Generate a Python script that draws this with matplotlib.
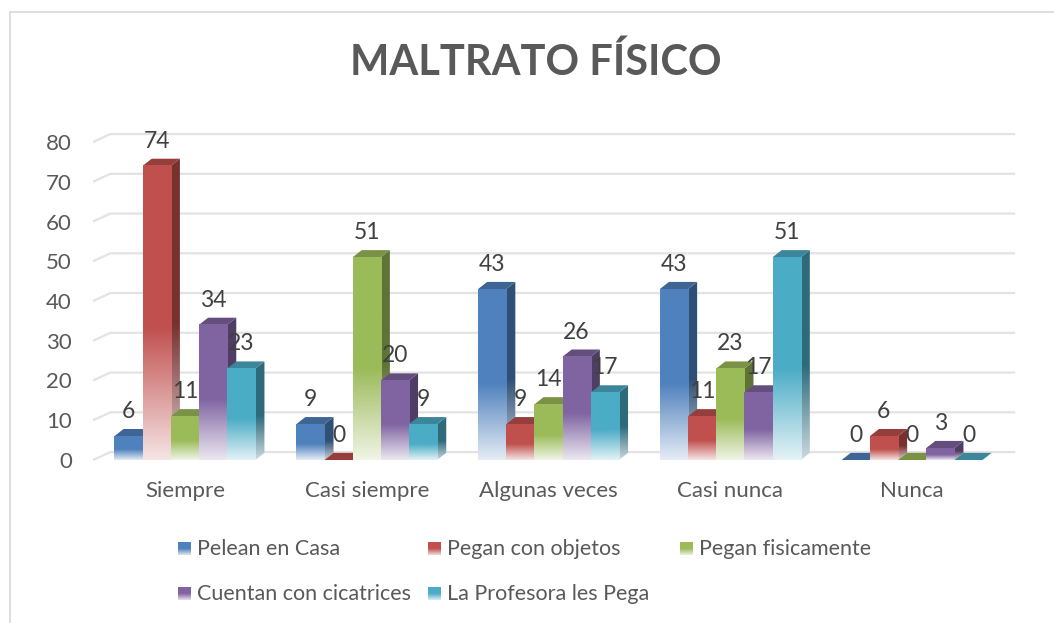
import numpy as np
import matplotlib
matplotlib.use("Agg")
import matplotlib.pyplot as plt
from matplotlib.patches import Polygon
from matplotlib.lines import Line2D

categories = ["Siempre", "Casi siempre", "Algunas veces", "Casi nunca", "Nunca"]
series_names = ["Pelean en Casa", "Pegan con objetos", "Pegan fisicamente",
                "Cuentan con cicatrices", "La Profesora les Pega"]
pelean_casa = [6, 9, 43, 43, 0]
pegan_objetos = [74, 0, 9, 11, 6]
pegan_fisicamente = [11, 51, 14, 23, 0]
cuentan_cicatrices = [34, 20, 26, 17, 3]
profesora_pega = [23, 9, 17, 51, 0]
series_values = [pelean_casa, pegan_objetos, pegan_fisicamente,
                 cuentan_cicatrices, profesora_pega]
colors = ["#4f81bd", "#c0504d", "#9bbb59", "#8064a2", "#4bacc6"]
y_ticks = [0, 10, 20, 30, 40, 50, 60, 70, 80]

plt.rcParams["font.family"] = ["Lato", "DejaVu Sans"]
TEXT = "#595959"

W, H = 1054, 623
fig = plt.figure(figsize=(W / 100, H / 100), dpi=100)

# plot area in pixels: x -0.5 -> 94 px, 4.5 -> 1003 px ; y 0 -> 460 px, 90 -> 102 px
ax = fig.add_axes([94 / W, (H - 460) / H, (1003 - 94) / W, (460 - 102.25) / H])
ax.set_zorder(2)
ax.patch.set_alpha(0)

bw = 0.155          # bar width (data units)
dx = 0.05           # depth offset in x
dy = 1.8            # depth offset in value units


def shade(c, f):
    rgb = np.array(matplotlib.colors.to_rgb(c))
    return np.clip(rgb * f, 0, 1)


def gradient_img(rgb, n=200, fade=0.45, k=0.85):
    t = np.linspace(0, 1, n)[:, None]
    mix = np.clip(1 - t / fade, 0, 1) * k
    img = rgb[None, :] * (1 - mix) + np.ones(3)[None, :] * mix
    return np.repeat(img[:, None, :], 2, axis=1)


def draw_bar(xc, v, color):
    x0, x1 = xc - bw / 2, xc + bw / 2
    side_c = shade(color, 0.62)
    top_c = shade(color, 0.78)
    front_c = np.array(matplotlib.colors.to_rgb(color))
    if v <= 0:
        ax.add_patch(Polygon([(x0, 0), (x1, 0), (x1 + dx, dy), (x0 + dx, dy)],
                             closed=True, fc=top_c, ec="none", zorder=3))
        return
    # side face
    side = Polygon([(x1, 0), (x1 + dx, dy), (x1 + dx, v + dy), (x1, v)],
                   closed=True, fc="none", ec="none")
    ax.add_patch(side)
    im = ax.imshow(gradient_img(side_c, k=0.75), extent=(x1, x1 + dx, 0, v + dy),
                   origin="lower", aspect="auto", interpolation="bilinear", zorder=3)
    im.set_clip_path(side)
    # top face
    ax.add_patch(Polygon([(x0, v), (x1, v), (x1 + dx, v + dy), (x0 + dx, v + dy)],
                         closed=True, fc=top_c, ec="none", zorder=3))
    # front face
    ax.imshow(gradient_img(front_c), extent=(x0, x1, 0, v), origin="lower",
              aspect="auto", interpolation="bilinear", zorder=3)


# back-wall gridlines with a small perspective kink at the left
gx0, gx1 = -0.505, -0.41
for t in y_ticks:
    ax.plot([gx0, gx1, 4.567], [t, t + 2.0, t + 2.0], color="#e3e3e3", lw=1.6,
            zorder=1, clip_on=False, solid_capstyle="butt")

n = len(series_values)
for i, cat in enumerate(categories):
    for j in range(n):
        xc = i + (j - (n - 1) / 2) * bw
        draw_bar(xc, series_values[j][i], colors[j])

for i, cat in enumerate(categories):
    for j in range(n):
        xc = i + (j - (n - 1) / 2) * bw
        v = series_values[j][i]
        ax.text(xc, v + 6.2, str(v), ha="center", va="center", fontsize=16.5,
                color="#404040", zorder=6)

ax.set_xlim(-0.5, 4.5)
ax.set_ylim(0, 90)
ax.set_xticks(range(len(categories)))
ax.set_xticklabels(categories, fontsize=16, color=TEXT)
ax.set_yticks(y_ticks)
ax.set_yticklabels([str(t) for t in y_ticks], fontsize=16, color=TEXT)
ax.tick_params(axis="x", length=0, pad=15)
ax.tick_params(axis="y", length=0, pad=16)
for s in ax.spines.values():
    s.set_visible(False)

# title
fig.text(536 / W, 1 - 62 / H, "MALTRATO FÍSICO", ha="center", va="center",
         fontsize=30, fontweight="bold", color=TEXT)

# overlay in pixel coords for legend and chart border
ov = fig.add_axes([0, 0, 1, 1])
ov.set_xlim(0, W)
ov.set_ylim(H, 0)
ov.axis("off")
ov.set_zorder(1)
ov.add_line(Line2D([9.5, 9.5], [12, H], color="#d9d9d9", lw=1.2))
ov.add_line(Line2D([9.5, W], [12, 12], color="#d9d9d9", lw=1.2))

legend_pos = [(178, 549), (428, 549), (680, 549), (178, 594), (428, 594)]
for (lx, ly), name, c in zip(legend_pos, series_names, colors):
    rgb = np.array(matplotlib.colors.to_rgb(c))
    img = gradient_img(rgb, fade=0.5, k=0.8)
    ov.imshow(img, extent=(lx, lx + 13, ly + 6.5, ly - 6.5), origin="lower",
              aspect="auto", interpolation="bilinear")
    ov.text(lx + 19, ly, name, ha="left", va="center", fontsize=15.5, color=TEXT)
ov.set_xlim(0, W)
ov.set_ylim(H, 0)

fig.savefig("out.png", dpi=100)
